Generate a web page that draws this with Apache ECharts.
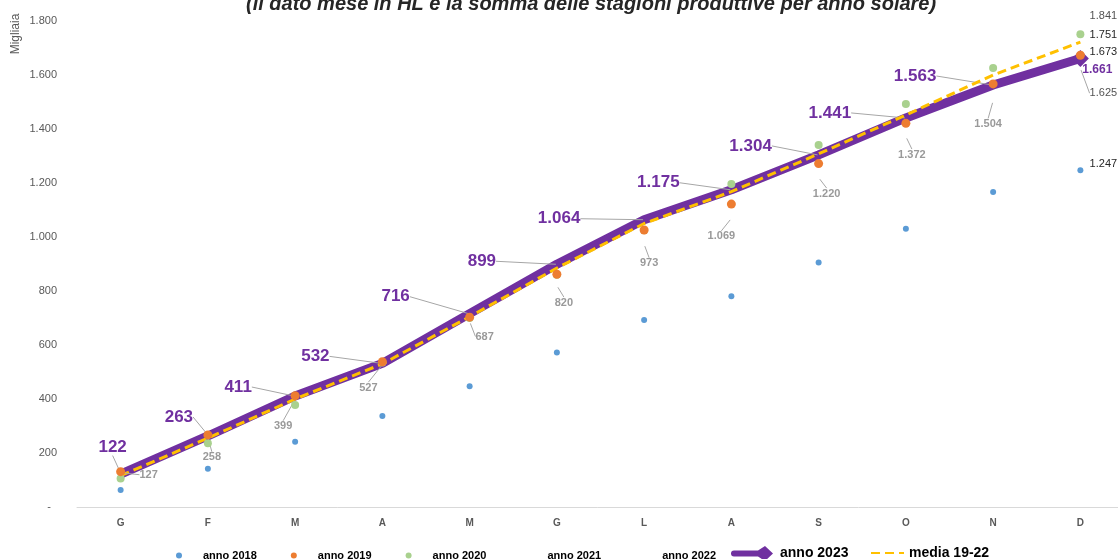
<!DOCTYPE html>
<html>
<head>
<meta charset="utf-8">
<script src="https://cdn.jsdelivr.net/npm/echarts@6/dist/echarts.min.js"></script>
<style>
  html, body { margin: 0; padding: 0; background: #fff; }
  #chart { width: 1118px; height: 559px; }
</style>
</head>
<body>
<div id="chart"></div>
<script>
// mesi (anno solare)
const mesi = ['G', 'F', 'M', 'A', 'M', 'G', 'L', 'A', 'S', 'O', 'N', 'D'];

// valori cumulati, migliaia di HL
const anno2018 = [63, 142, 242, 337, 447, 572, 693, 781, 906, 1031, 1167, 1247];
const anno2019 = [131, 267, 412, 538, 703, 862, 1026, 1122, 1272, 1421, 1567, 1673];
const anno2020 = [106, 236, 378, 535, 700, 860, 1025, 1196, 1341, 1493, 1626, 1751];
const anno2021 = [100, 259, 411, 520, 730, 998, 1176, 1287, 1399, 1522, 1703, 1841];
const anno2022 = [127, 258, 399, 527, 687, 820, 973, 1069, 1220, 1372, 1504, 1625];
const anno2023 = [122, 263, 411, 532, 716, 899, 1064, 1175, 1304, 1441, 1563, 1661];
const media1922 = [116, 255, 400, 530, 705, 885, 1050, 1168, 1308, 1452, 1600, 1722];

const yTicks = [0, 200, 400, 600, 800, 1000, 1200, 1400, 1600, 1800];

// spostamento etichette (px) rispetto al punto
const off2023 = [[-8, -27], [-29, -19], [-57, -9], [-67, -7], [-74, -17], [-75, -3],
  [-85, -1], [-73, -7], [-68, -9], [-76, -5], [-78, -9], [17, 11]];
const off2022 = [[28, 2], [4, 20], [-12, 27], [-14, 23], [15, 15], [7, 17],
  [5, 19], [-10, 18], [8, 16], [6, 18], [-5, 23], [23, 25]];

const last = mesi.length - 1;
const fmt = v => String(v).replace(/\B(?=(\d{3})+(?!\d))/g, '.');
const FONT = 'Liberation Sans';

// etichetta solo sull'ultimo punto (dicembre)
function lastOnly(arr) {
  return arr.map((v, i) => i === last ? { value: v, label: { show: true } } : v);
}
function endLabel(dy) {
  return {
    label: { show: false, position: 'inside', formatter: p => fmt(p.value), fontSize: 11, color: '#262626' },
    labelLayout: p => p.dataIndex === last ? { dx: 23, dy: dy } : {}
  };
}

const chart = echarts.init(document.getElementById('chart'));

chart.setOption({
  animation: false,
  textStyle: { fontFamily: FONT },
  title: {
    text: '(il dato mese in HL è la somma delle stagioni produttive per anno solare)',
    left: 246,
    top: -6,
    padding: 0,
    textStyle: { fontSize: 20, fontWeight: 'bold', fontStyle: 'italic', color: '#262626', fontFamily: FONT }
  },
  graphic: [{
    type: 'text',
    x: 16, y: 34,
    rotation: Math.PI / 2,
    style: { text: 'Migliaia', align: 'center', verticalAlign: 'middle', fontSize: 12, fill: '#595959', fontFamily: FONT }
  }],
  grid: { left: 77, right: -6, top: 21, bottom: 52, containLabel: false, outerBoundsMode: 'none' },
  xAxis: {
    type: 'category',
    data: mesi,
    axisLine: { lineStyle: { color: '#d9d9d9', width: 1 } },
    axisTick: { show: false },
    axisLabel: { color: '#595959', fontSize: 10, fontWeight: 'bold', margin: 11 }
  },
  yAxis: {
    type: 'value',
    min: yTicks[0],
    max: yTicks[yTicks.length - 1],
    interval: 200,
    splitLine: { show: false },
    axisLine: { show: false },
    axisTick: { show: false },
    axisLabel: {
      color: '#595959', fontSize: 11, margin: 20,
      formatter: v => v === 0 ? '-  ' : fmt(v)
    }
  },
  legend: [
    {
      data: ['anno 2018', 'anno 2019', 'anno 2020', 'anno 2021', 'anno 2022'],
      left: 171, top: 545,
      itemWidth: 38, itemHeight: 6, itemGap: 34,
      textStyle: { fontSize: 11, fontWeight: 'bold', color: '#000' }
    },
    {
      // linea spessa con rombo finale
      data: [{
        name: 'anno 2023',
        icon: 'path://M4,4.5 L28,4.5 L35,0 L43,7.5 L35,15 L28,10.5 L4,10.5 A3,3 0 0 1 4,4.5 Z'
      }],
      left: 726, top: 541,
      itemWidth: 46, itemHeight: 15,
      textStyle: { fontSize: 14, fontWeight: 'bold', color: '#000' }
    },
    {
      data: ['media 19-22'],
      left: 865, top: 541,
      itemWidth: 33, itemHeight: 14,
      itemStyle: { opacity: 0 },
      textStyle: { fontSize: 14, fontWeight: 'bold', color: '#000' }
    }
  ],
  series: [
    {
      name: 'anno 2023',
      type: 'line',
      z: 3,
      data: anno2023.map((v, i) => i === last
        ? { value: v, label: { fontSize: 12 }, labelLine: { show: false } }
        : { value: v, symbolSize: 2 }),
      symbol: 'diamond',
      symbolSize: 17,
      lineStyle: { color: '#7030a0', width: 9 },
      itemStyle: { color: '#7030a0' },
      label: {
        show: true, position: 'inside', formatter: p => fmt(p.value),
        fontSize: 17, fontWeight: 'bold', color: '#7030a0'
      },
      labelLayout: p => ({ dx: off2023[p.dataIndex][0], dy: off2023[p.dataIndex][1] }),
      labelLine: { show: true, lineStyle: { color: '#a6a6a6', width: 1 } }
    },
    {
      name: 'media 19-22',
      type: 'line',
      z: 4,
      data: media1922,
      symbol: 'none',
      lineStyle: { color: '#ffc000', width: 3, type: [9, 5] },
      itemStyle: { color: '#ffc000' }
    },
    Object.assign({
      name: 'anno 2018', type: 'scatter', z: 5, clip: false,
      data: lastOnly(anno2018), symbolSize: 6,
      itemStyle: { color: '#5b9bd5', opacity: 1 }
    }, endLabel(-6)),
    Object.assign({
      name: 'anno 2020', type: 'scatter', z: 5, clip: false,
      data: lastOnly(anno2020), symbolSize: 8,
      itemStyle: { color: '#a9d18e', opacity: 1 }
    }, endLabel(1)),
    Object.assign({
      name: 'anno 2019', type: 'scatter', z: 6, clip: false,
      data: lastOnly(anno2019), symbolSize: 9,
      itemStyle: { color: '#ed7d31', opacity: 1 }
    }, endLabel(-3)),
    Object.assign({
      name: 'anno 2021', type: 'scatter', z: 5, clip: false,
      data: lastOnly(anno2021), symbolSize: 4,
      itemStyle: { color: 'rgba(0,0,0,0)' }
    }, endLabel(6)),
    {
      name: 'anno 2022', type: 'scatter', z: 5, clip: false,
      data: anno2022.map((v, i) => i === last ? { value: v, label: { color: '#262626', fontWeight: 'normal' } } : v),
      symbolSize: 4,
      itemStyle: { color: 'rgba(0,0,0,0)' },
      label: {
        show: true, position: 'inside', formatter: p => fmt(p.value),
        fontSize: 11, fontWeight: 'bold', color: '#7f7f7f'
      },
      labelLayout: p => ({ dx: off2022[p.dataIndex][0], dy: off2022[p.dataIndex][1] }),
      labelLine: { show: true, lineStyle: { color: '#a6a6a6', width: 1 } }
    }
  ]
});
</script>
</body>
</html>
